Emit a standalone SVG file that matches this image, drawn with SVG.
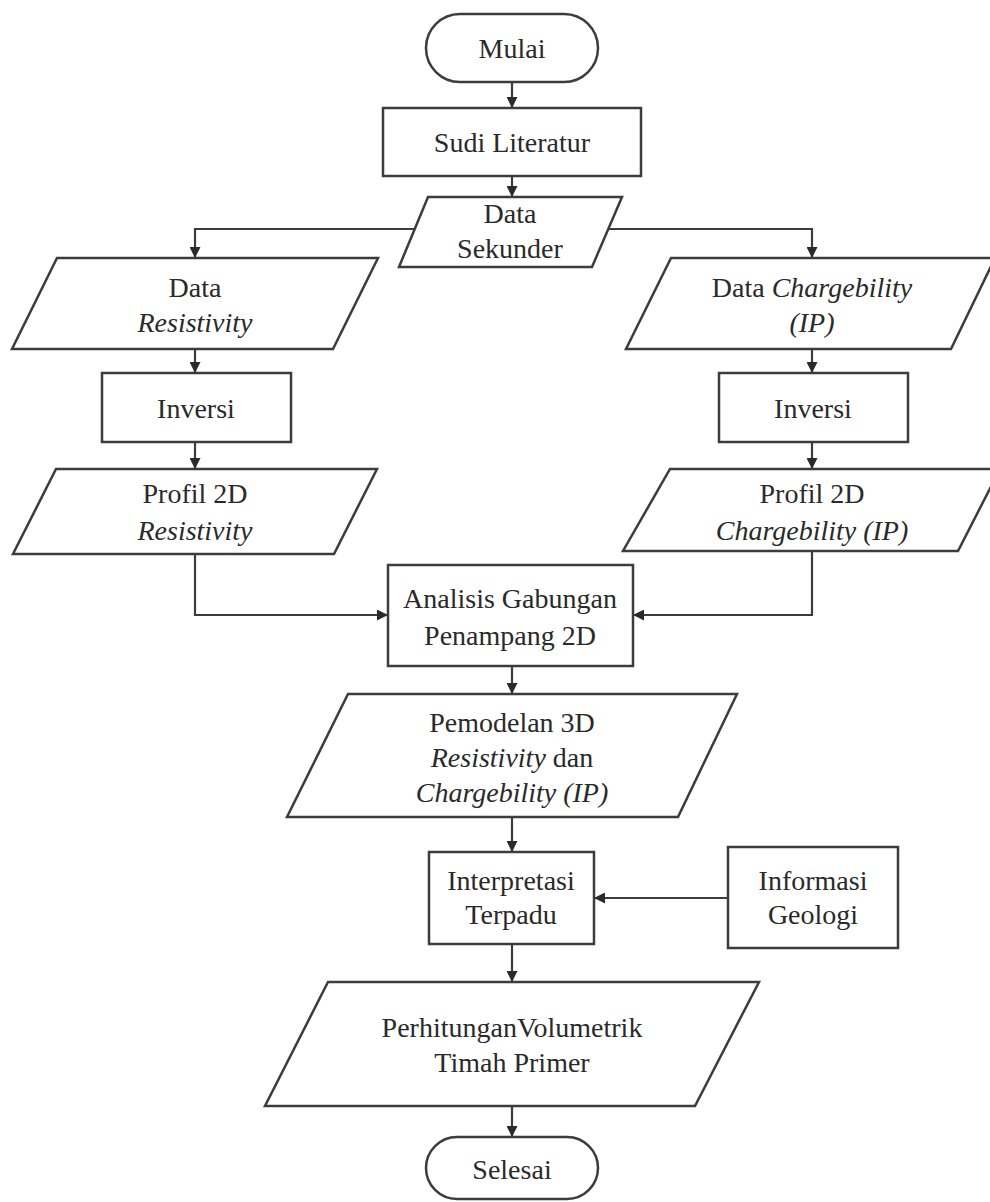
<svg xmlns="http://www.w3.org/2000/svg" width="990" height="1202" viewBox="0 0 990 1202">
<style>
.s{fill:#fff;stroke:#3c3c3c;stroke-width:2.5}
.c{fill:none;stroke:#3c3c3c;stroke-width:2.2}
text{font-family:"Liberation Serif","Times New Roman",serif;font-size:28px;fill:#2a2a2a;text-anchor:middle;dominant-baseline:central}
.i{font-style:italic}
</style>
<defs>
<marker id="ah" viewBox="0 0 10 10" refX="10" refY="5" markerWidth="11" markerHeight="11" markerUnits="userSpaceOnUse" orient="auto">
<path d="M0,0 L10,5 L0,10 z" fill="#2a2a2a"/>
</marker>
</defs>
<rect width="990" height="1202" fill="#fff"/>
<g id="connectors">
<line class="c" x1="512" y1="82" x2="512" y2="108" marker-end="url(#ah)"/>
<line class="c" x1="512" y1="176" x2="512" y2="197" marker-end="url(#ah)"/>
<polyline class="c" points="414,229 195,229 195,258" marker-end="url(#ah)"/>
<polyline class="c" points="607,229 812,229 812,258" marker-end="url(#ah)"/>
<line class="c" x1="195" y1="349" x2="195" y2="373" marker-end="url(#ah)"/>
<line class="c" x1="812" y1="349" x2="812" y2="373" marker-end="url(#ah)"/>
<line class="c" x1="195" y1="442" x2="195" y2="469" marker-end="url(#ah)"/>
<line class="c" x1="812" y1="442" x2="812" y2="469" marker-end="url(#ah)"/>
<polyline class="c" points="195,554 195,615 388,615" marker-end="url(#ah)"/>
<polyline class="c" points="812,551 812,615 633,615" marker-end="url(#ah)"/>
<line class="c" x1="512" y1="666" x2="512" y2="694" marker-end="url(#ah)"/>
<line class="c" x1="512" y1="817" x2="512" y2="852" marker-end="url(#ah)"/>
<line class="c" x1="728" y1="898" x2="594" y2="898" marker-end="url(#ah)"/>
<line class="c" x1="512" y1="944" x2="512" y2="982" marker-end="url(#ah)"/>
<line class="c" x1="512" y1="1106" x2="512" y2="1137" marker-end="url(#ah)"/>
</g>
<g id="mulai">
<rect class="s" x="426" y="14" width="172" height="68" rx="34"/>
<text x="512" y="48">Mulai</text>
</g>
<g id="sudi-literatur">
<rect class="s" x="383" y="108" width="258" height="68"/>
<text x="512" y="142">Sudi Literatur</text>
</g>
<g id="data-sekunder">
<polygon class="s" points="428,197 622,197 592,267 399,267"/>
<text x="510" y="213">Data</text>
<text x="510" y="248">Sekunder</text>
</g>
<g id="data-resistivity">
<polygon class="s" points="57,258 378,258 333,349 12,349"/>
<text x="195" y="287">Data</text>
<text x="195" y="322" class="i">Resistivity</text>
</g>
<g id="data-chargebility">
<polygon class="s" points="671,258 995,258 951,349 626,349"/>
<text x="812" y="287">Data <tspan class="i">Chargebility</tspan></text>
<text x="812" y="322" class="i">(IP)</text>
</g>
<g id="inversi-res">
<rect class="s" x="102" y="373" width="189" height="69"/>
<text x="196" y="408">Inversi</text>
</g>
<g id="inversi-ip">
<rect class="s" x="719" y="373" width="189" height="69"/>
<text x="813" y="408">Inversi</text>
</g>
<g id="profil-res">
<polygon class="s" points="56,469 377,469 334,554 13,554"/>
<text x="195" y="493">Profil 2D</text>
<text x="195" y="530" class="i">Resistivity</text>
</g>
<g id="profil-ip">
<polygon class="s" points="670,469 1000,469 958,551 623,551"/>
<text x="812" y="493">Profil 2D</text>
<text x="812" y="530" class="i">Chargebility (IP)</text>
</g>
<g id="analisis">
<rect class="s" x="388" y="565" width="245" height="101"/>
<text x="510" y="598">Analisis Gabungan</text>
<text x="510" y="635">Penampang 2D</text>
</g>
<g id="pemodelan">
<polygon class="s" points="348,694 737,694 678,817 287,817"/>
<text x="512" y="722">Pemodelan 3D</text>
<text x="512" y="757"><tspan class="i">Resistivity</tspan> dan</text>
<text x="512" y="792" class="i">Chargebility (IP)</text>
</g>
<g id="interpretasi">
<rect class="s" x="429" y="852" width="165" height="92"/>
<text x="511" y="880">Interpretasi</text>
<text x="511" y="914">Terpadu</text>
</g>
<g id="informasi">
<rect class="s" x="728" y="847" width="170" height="101"/>
<text x="813" y="880">Informasi</text>
<text x="813" y="914">Geologi</text>
</g>
<g id="perhitungan">
<polygon class="s" points="328,982 759,982 695,1106 265,1106"/>
<text x="512" y="1027">PerhitunganVolumetrik</text>
<text x="512" y="1062">Timah Primer</text>
</g>
<g id="selesai">
<rect class="s" x="426" y="1137" width="172" height="62" rx="31"/>
<text x="512" y="1169">Selesai</text>
</g>
</svg>
